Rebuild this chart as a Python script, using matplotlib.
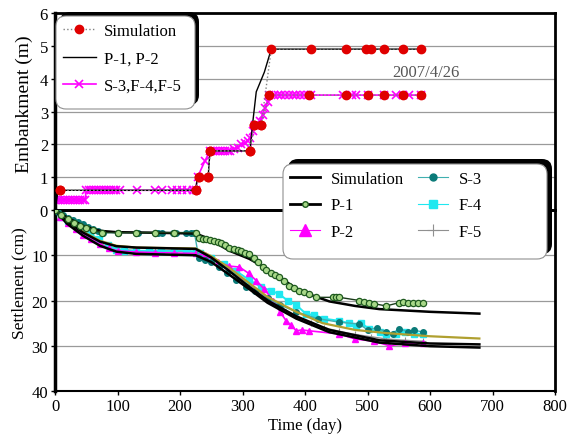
import matplotlib
matplotlib.use("Agg")
import matplotlib.pyplot as plt
from matplotlib.lines import Line2D
from matplotlib.patches import FancyBboxPatch
from matplotlib.transforms import IdentityTransform

plt.rcParams['font.family'] = ['Liberation Serif', 'DejaVu Serif']
plt.rcParams['font.size'] = 12

# ---- embankment height (m) ----
emb_sim_hi = [(8, 0.6), (225, 0.6), (230, 1.0), (245, 1.0), (248, 1.8), (312, 1.8), (319, 2.6),
              (330, 2.6), (346, 4.9), (409, 4.9), (466, 4.9), (498, 4.9), (506, 4.9), (527, 4.9),
              (556, 4.9), (586, 4.9)]
emb_sim_lo = [(8, 0.6), (225, 0.6), (230, 1.0), (245, 1.0), (248, 1.8), (312, 1.8), (319, 2.6),
              (330, 2.6), (343, 3.5), (407, 3.5), (465, 3.5), (500, 3.5), (527, 3.5), (556, 3.5),
              (586, 3.5)]
emb_p = [(0, 0.0), (5, 0.6), (225, 0.6), (228, 1.0), (245, 1.0), (248, 1.8), (312, 1.8), (316, 2.6),
         (322, 3.6), (335, 4.2), (346, 4.9), (590, 4.9)]
emb_s = [(0, 0.3), (4, 0.3), (8, 0.3), (12, 0.3), (16, 0.3), (20, 0.3), (24, 0.3), (28, 0.3),
         (32, 0.3), (36, 0.3), (40, 0.3), (44, 0.3), (48, 0.3), (50, 0.6), (54, 0.6), (58, 0.6),
         (62, 0.6), (66, 0.6), (70, 0.6), (74, 0.6), (78, 0.6), (82, 0.6), (86, 0.6), (90, 0.6),
         (94, 0.6), (98, 0.6), (104, 0.6), (131, 0.6), (160, 0.6), (171, 0.6), (187, 0.6),
         (195, 0.6), (203, 0.6), (211, 0.6), (220, 0.6), (225, 0.6), (228, 1.0), (240, 1.5),
         (248, 1.8), (252, 1.8), (256, 1.8), (260, 1.8), (264, 1.8), (268, 1.8), (272, 1.8),
         (276, 1.8), (280, 1.8), (286, 1.85), (292, 1.9), (298, 2.0), (304, 2.05), (308, 2.1),
         (312, 2.2), (316, 2.4), (320, 2.6), (324, 2.6), (328, 2.7), (332, 2.9), (336, 3.1),
         (340, 3.3), (343, 3.5), (350, 3.5), (356, 3.5), (362, 3.5), (368, 3.5), (374, 3.5),
         (380, 3.5), (386, 3.5), (392, 3.5), (398, 3.5), (404, 3.5), (410, 3.5), (460, 3.5),
         (475, 3.5), (482, 3.5), (500, 3.5), (527, 3.5), (545, 3.5), (556, 3.5), (566, 3.5),
         (586, 3.5)]

# ---- settlement (cm) ----
sim_p1 = [(0, 0), (19, 1.6), (45, 3.5), (72, 4.6), (98, 4.9), (150, 5.0), (225, 5.2), (240, 6.0),
          (260, 7.5), (279, 9.0), (311, 10.8), (330, 12.3), (360, 15.0), (386, 17.3), (410, 18.8),
          (439, 20.2), (480, 21.2), (519, 21.9), (600, 22.5), (679, 22.9)]
sim_a = [(0, 0), (19, 2.3), (45, 4.8), (72, 6.8), (98, 7.9), (130, 8.3), (225, 8.5), (250, 10.2),
         (279, 12.8), (311, 16.2), (340, 19.2), (386, 22.5), (428, 25.0), (480, 26.5), (530, 27.2),
         (600, 27.9), (679, 28.4)]
sim_b = [(0, 0), (19, 2.5), (45, 5.0), (72, 7.0), (98, 8.0), (130, 8.3), (225, 8.6), (250, 10.5),
         (279, 13.5), (311, 17.0), (340, 20.0), (386, 23.5), (439, 26.5), (519, 28.8), (600, 29.5),
         (679, 29.7)]
sim_c = [(0, 0), (19, 3.0), (45, 5.7), (72, 7.9), (98, 9.2), (130, 9.7), (225, 10.0), (250, 11.5),
         (279, 14.3), (311, 17.5), (340, 20.5), (386, 24.0), (439, 27.0), (519, 29.3), (600, 30.1),
         (679, 30.4)]

p1 = [(0, 0), (10, 1.0), (20, 2.0), (30, 2.8), (40, 3.5), (50, 4.0), (60, 4.5), (75, 5.0),
      (100, 5.0), (130, 5.0), (160, 5.0), (190, 5.0), (225, 5.0), (230, 6.2), (236, 6.4),
      (242, 6.5), (248, 6.7), (254, 6.9), (260, 7.1), (266, 7.4), (272, 7.8), (279, 8.3),
      (286, 8.6), (292, 8.8), (298, 9.1), (304, 9.4), (311, 9.7), (318, 10.5), (325, 11.5),
      (332, 12.6), (338, 13.3), (345, 14.0), (352, 14.4), (359, 14.8), (366, 15.6), (375, 16.7),
      (383, 17.3), (391, 17.8), (399, 18.2), (407, 18.6), (418, 19.3), (445, 19.3), (450, 19.2),
      (455, 19.3), (487, 20.0), (495, 20.4), (503, 20.6), (510, 20.7), (530, 21.2), (550, 20.5),
      (556, 20.4), (565, 20.5), (572, 20.6), (580, 20.6), (588, 20.6)]
s3 = [(0, 0), (5, 0.5), (12, 1.2), (20, 1.8), (28, 2.3), (36, 2.7), (44, 3.2), (52, 3.7),
      (60, 4.2), (68, 4.6), (76, 5.0), (100, 5.0), (133, 5.0), (165, 5.0), (171, 5.0), (188, 5.0),
      (194, 5.0), (210, 5.0), (218, 5.0), (223, 5.0), (230, 10.5), (240, 11.0), (250, 11.5),
      (262, 12.5), (275, 14.0), (290, 15.5), (305, 17.0), (320, 18.0), (340, 19.5), (360, 21.0),
      (386, 22.5), (420, 24.0), (455, 24.8), (487, 25.2), (500, 26.5), (515, 26.0), (530, 27.0),
      (540, 27.3), (551, 26.2), (565, 27.0), (575, 26.5), (588, 27.0)]
f4 = [(0, 0), (10, 1.5), (20, 2.5), (35, 3.8), (45, 4.6), (56, 5.2), (70, 6.5), (85, 7.8),
      (98, 8.8), (110, 9.0), (130, 9.0), (150, 9.0), (170, 9.0), (190, 9.0), (210, 9.0),
      (225, 9.2), (232, 9.5), (250, 10.5), (270, 12.0), (290, 13.5), (311, 15.5), (330, 17.0),
      (345, 17.8), (359, 18.6), (372, 20.0), (386, 21.0), (402, 23.0), (415, 23.2), (430, 24.0),
      (455, 24.5), (470, 25.0), (482, 25.6), (490, 25.0), (503, 26.3), (520, 27.0), (530, 27.5),
      (546, 27.4), (560, 27.0), (575, 27.4), (588, 27.4)]
p2 = [(0, 0), (8, 1.5), (20, 2.8), (33, 4.2), (45, 5.5), (58, 6.5), (72, 7.6), (86, 8.5),
      (100, 9.0), (130, 9.3), (160, 9.4), (190, 9.5), (225, 9.6), (240, 10.0), (260, 11.5),
      (279, 12.4), (295, 12.6), (310, 14.0), (322, 15.6), (335, 17.5), (349, 20.0), (360, 22.5),
      (370, 24.5), (378, 25.5), (386, 26.7), (395, 26.5), (407, 26.7), (455, 27.4), (480, 28.5),
      (510, 29.0), (535, 30.0), (560, 29.5), (588, 29.3)]
f5 = [(0, 0), (10, 1.0), (20, 2.0), (33, 3.5), (45, 5.0), (58, 6.2), (72, 7.5), (86, 8.2),
      (100, 8.6), (130, 9.0), (160, 9.0), (190, 9.1), (225, 9.3), (250, 11.0), (279, 13.0),
      (311, 16.5), (340, 19.5), (365, 21.8), (386, 23.5), (410, 25.0), (430, 26.0), (455, 26.8),
      (480, 27.5), (505, 28.0), (530, 28.5), (560, 28.8), (588, 29.0)]

date_label = "2007/4/26"


def xy(pairs):
    return [p[0] for p in pairs], [p[1] for p in pairs]


W, H = 576, 439
fig = plt.figure(figsize=(W / 100, H / 100), dpi=100)
ax_top = fig.add_axes([55 / W, 1 - 211 / H, 500 / W, 197 / H])
ax_bot = fig.add_axes([55 / W, 1 - 392 / H, 500 / W, 181 / H])
for ax in (ax_top, ax_bot):
    ax.set_facecolor('none')
    ax.set_xlim(0, 800)
    for s in ax.spines.values():
        s.set_color('black')

# top panel
ax_top.set_ylim(0, 6)
ax_top.set_yticks([1, 2, 3, 4, 5, 6])
ax_top.set_xticks([])
for v in [1, 2, 3, 4, 5]:
    ax_top.axhline(v, color='#9a9a9a', lw=0.9, zorder=0)
ax_top.spines['left'].set_linewidth(2.5)
ax_top.spines['top'].set_linewidth(2.0)
ax_top.spines['right'].set_linewidth(2.0)
ax_top.spines['bottom'].set_linewidth(2.0)
ax_top.tick_params(axis='y', length=3, width=1, pad=2)

ax_top.plot(*xy(emb_s), color='#ff00ff', lw=1.2, marker='x', ms=6, mew=1.2, zorder=2)
ax_top.plot(*xy(emb_p), color='black', lw=1.0, zorder=3)
ax_top.plot(*xy(emb_sim_hi), color='#808080', ls=':', lw=1.0, marker='o', ms=6,
            mfc='#e00000', mec='#e00000', zorder=4)
ax_top.plot(*xy(emb_sim_lo), color='#808080', ls=':', lw=1.0, marker='o', ms=6,
            mfc='#e00000', mec='#e00000', zorder=4)
ax_top.text(593, 4.2, date_label, ha='center', va='center', color='#555555', fontsize=12)
ax_top.set_ylabel("Embankment (m)", fontsize=14)
ax_top.yaxis.set_label_coords(-0.044, 0.543)

# bottom panel
ax_bot.set_ylim(40, 0)
ax_bot.set_yticks([0, 10, 20, 30, 40])
ax_bot.set_xticks(range(0, 801, 100))
for v in [10, 20, 30]:
    ax_bot.axhline(v, color='#9a9a9a', lw=0.9, zorder=0)
ax_bot.spines['left'].set_linewidth(2.5)
ax_bot.spines['top'].set_linewidth(2.0)
ax_bot.spines['right'].set_linewidth(2.0)
ax_bot.spines['bottom'].set_linewidth(1.5)
ax_bot.tick_params(axis='both', length=3, width=1, pad=2)

ax_bot.plot(*xy(f5), color='#909090', lw=1.0, marker='+', ms=5, mew=0.8, zorder=2)
ax_bot.plot(*xy(f4), color='#20e8f0', lw=1.4, marker='s', ms=4, mec='#20e8f0', zorder=2)
ax_bot.plot(*xy(p2), color='#ff00ff', lw=1.2, marker='^', ms=5, mec='#ff00ff', zorder=2)
ax_bot.plot(*xy(s3), color='#40b0b0', lw=1.0, marker='o', ms=4, mfc='#0a7a78', mec='#0a7a78',
            zorder=3)
ax_bot.plot(*xy(sim_a), color='#b0a030', lw=1.6, zorder=4)
ax_bot.plot(*xy(sim_b), color='black', lw=1.8, zorder=4)
ax_bot.plot(*xy(sim_c), color='black', lw=1.8, zorder=4)
ax_bot.plot(*xy(sim_p1), color='black', lw=1.8, zorder=4)
ax_bot.plot(*xy(p1), color='#1a3a1a', lw=1.0, marker='o', ms=4.5, mfc='#a8d888', mec='#1f5a1f',
            mew=0.9, zorder=5)
ax_bot.set_ylabel("Settlement (cm)", fontsize=12.5)
ax_bot.yaxis.set_label_coords(-0.055, 0.60)
ax_bot.set_xlabel("Time (day)", fontsize=12, labelpad=2)


def legend_box(ax, x0, y0, x1, y1, r=10, sh=4):
    # pixel coords, y measured from the top of the image
    shadow = FancyBboxPatch((x0 + sh, H - y1 + sh), x1 - x0, y1 - y0,
                            boxstyle=f"round,pad=0,rounding_size={r}",
                            transform=IdentityTransform(), fc='black', ec='black',
                            lw=0, zorder=6, clip_on=False)
    frame = FancyBboxPatch((x0, H - y1), x1 - x0, y1 - y0,
                           boxstyle=f"round,pad=0,rounding_size={r}",
                           transform=IdentityTransform(), fc='white', ec='#909090',
                           lw=0.8, zorder=6.5, clip_on=False)
    ax.add_artist(shadow)
    ax.add_artist(frame)


legend_box(ax_top, 56, 17, 195, 110)
top_handles = [
    Line2D([], [], color='#808080', ls=':', lw=1.0, marker='o', ms=6, mfc='#e00000', mec='#e00000'),
    Line2D([], [], color='black', lw=1.0),
    Line2D([], [], color='#ff00ff', lw=1.2, marker='x', ms=6, mew=1.2),
]
leg1 = ax_top.legend(top_handles, ["Simulation", "P-1, P-2", "S-3,F-4,F-5"],
                     loc='upper left', bbox_to_anchor=(56 / W, 1 - 17 / H),
                     bbox_transform=fig.transFigure, frameon=False, borderaxespad=0,
                     borderpad=0.4, labelspacing=0.7, handlelength=2.0, handletextpad=0.5,
                     fontsize=12)
leg1.set_zorder(7)

legend_box(ax_bot, 283, 165, 547, 260, r=10, sh=5)
bot_handles = [
    Line2D([], [], color='black', lw=2.0),
    Line2D([], [], color='black', lw=2.0, marker='o', ms=4, mfc='#a8d888', mec='#1f5a1f'),
    Line2D([], [], color='#ff00ff', lw=0.8, marker='^', ms=8, mec='#ff00ff'),
    Line2D([], [], color='#40b0b0', lw=0.8, marker='o', ms=5, mfc='#0a7a78', mec='#0a7a78'),
    Line2D([], [], color='#20e8f0', lw=0.8, marker='s', ms=6, mec='#20e8f0'),
    Line2D([], [], color='#909090', lw=0.8, marker='+', ms=8, mew=0.8),
]
leg2 = ax_bot.legend(bot_handles, ["Simulation", "P-1", "P-2", "S-3", "F-4", "F-5"],
                     ncol=2, loc='upper left', bbox_to_anchor=(283 / W, 1 - 165 / H),
                     bbox_transform=fig.transFigure, frameon=False, borderaxespad=0,
                     borderpad=0.4, labelspacing=0.65, handlelength=1.8, handletextpad=0.65,
                     columnspacing=0.85, fontsize=12)
leg2.set_zorder(7)

fig.savefig("out.png", dpi=100)
